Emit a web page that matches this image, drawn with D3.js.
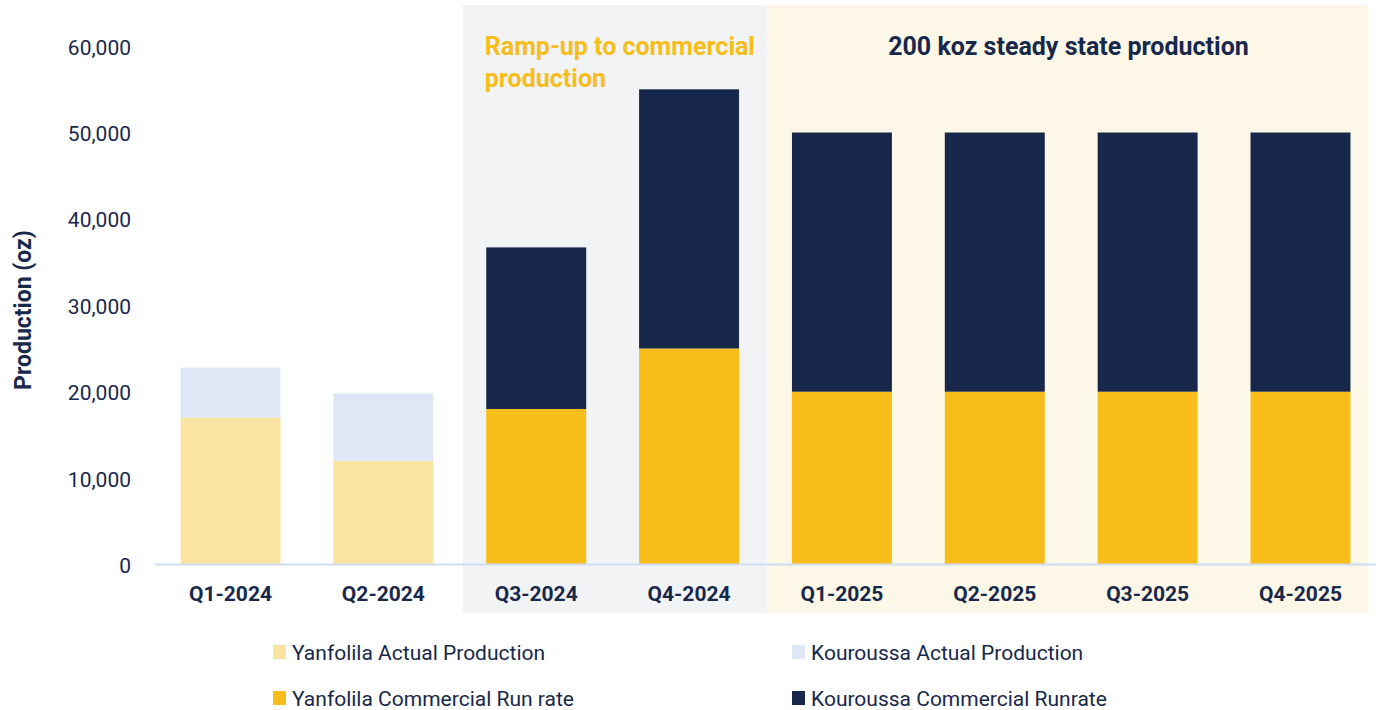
<!DOCTYPE html>
<html>
<head>
<meta charset="utf-8">
<script src="https://cdn.jsdelivr.net/npm/d3@7"></script>
<style>
  html, body { margin: 0; padding: 0; background: #ffffff; }
  svg { display: block; font-family: Roboto, "Noto Sans", sans-serif; }
</style>
</head>
<body>
<svg id="chart" width="1376" height="710"></svg>
<script>
// Quarterly production, ounces
const quarters = ["Q1-2024", "Q2-2024", "Q3-2024", "Q4-2024", "Q1-2025", "Q2-2025", "Q3-2025", "Q4-2025"];
const yanfolilaActual     = [17000, 12000, 0, 0, 0, 0, 0, 0];
const kouroussaActual     = [5800, 7800, 0, 0, 0, 0, 0, 0];
const yanfolilaCommercial = [0, 0, 18000, 25000, 20000, 20000, 20000, 20000];
const kouroussaCommercial = [0, 0, 18700, 30000, 30000, 30000, 30000, 30000];
const yTicks = [0, 10000, 20000, 30000, 40000, 50000, 60000];

const seriesNames = [
  "Yanfolila Actual Production",
  "Kouroussa Actual Production",
  "Yanfolila Commercial Run rate",
  "Kouroussa Commercial Runrate"
];
const seriesColors = ["#fae4a1", "#dfe6f5", "#f7bd1a", "#17284b"];
const seriesValues = [yanfolilaActual, kouroussaActual, yanfolilaCommercial, kouroussaCommercial];

const phases = [
  { label: ["Ramp-up to commercial", "production"], from: "Q3-2024", to: "Q4-2024", fill: "#f2f3f5", color: "#f7bd1a", align: "start" },
  { label: ["200 koz steady state production"], from: "Q1-2025", to: "Q4-2025", fill: "#fdf7e8", color: "#17284b", align: "middle" }
];

const svg = d3.select("#chart");
const navy = "#17284b";

const x = d3.scaleBand()
  .domain(quarters)
  .range([155, 1376])
  .paddingInner(0.346)
  .paddingOuter(0.167);

const y = d3.scaleLinear()
  .domain([0, 60000])
  .range([564.5, 46.1]);

// Phase backgrounds
const half = x.step() * x.paddingInner() / 2;
const phaseG = svg.append("g");
phases.forEach((p, i) => {
  const x0 = x(p.from) - half + 3;
  const x1 = i === phases.length - 1 ? x(p.to) + x.bandwidth() + 18 : x(p.to) + x.bandwidth() + half + 3;
  phaseG.append("rect")
    .attr("x", x0).attr("y", 5)
    .attr("width", x1 - x0 - (i === 0 ? 1 : 0))
    .attr("height", 608)
    .attr("fill", p.fill);
  const tx = p.align === "start" ? x0 + 22 : (x0 + x1) / 2;
  const t = phaseG.append("text")
    .attr("x", tx).attr("y", 55)
    .attr("text-anchor", p.align)
    .attr("fill", p.color)
    .attr("font-size", 25)
    .attr("font-weight", 700);
  p.label.forEach((line, k) => {
    t.append("tspan").attr("x", tx).attr("dy", k === 0 ? 0 : 32).text(line);
  });
});

// Stacked bars
const rows = quarters.map((q, i) => {
  const r = { quarter: q };
  seriesNames.forEach((s, j) => r[s] = seriesValues[j][i]);
  return r;
});
const stacked = d3.stack().keys(seriesNames)(rows);

svg.append("g")
  .selectAll("g")
  .data(stacked)
  .join("g")
  .attr("fill", (d, i) => seriesColors[i])
  .selectAll("rect")
  .data(d => d.filter(v => v[1] - v[0] > 0))
  .join("rect")
  .attr("x", d => x(d.data.quarter))
  .attr("width", x.bandwidth())
  .attr("y", d => y(d[1]))
  .attr("height", d => y(d[0]) - y(d[1]));

// Y axis
const yAxis = svg.append("g")
  .attr("transform", "translate(131,0)")
  .call(d3.axisLeft(y).tickValues(yTicks).tickSize(0).tickPadding(0).tickFormat(d3.format(",")));
yAxis.select(".domain").remove();
yAxis.selectAll("text")
  .attr("fill", navy)
  .attr("font-size", 21)
  .attr("dy", "0.38em")
  .attr("font-family", "Roboto, sans-serif");

// X axis
const xAxis = svg.append("g")
  .attr("transform", `translate(0,${y(0)})`)
  .call(d3.axisBottom(x).tickSize(0).tickPadding(22));
xAxis.select(".domain")
  .attr("d", `M155,0H1376`)
  .attr("stroke", "#cfdcf3")
  .attr("stroke-width", 2);
xAxis.selectAll("text")
  .attr("fill", navy)
  .attr("font-size", 21)
  .attr("font-weight", 700)
  .attr("font-family", "Roboto, sans-serif");

// Y axis title
svg.append("text")
  .attr("transform", "translate(31,310) rotate(-90)")
  .attr("text-anchor", "middle")
  .attr("fill", navy)
  .attr("font-size", 23)
  .attr("font-weight", 700)
  .text("Production (oz)");

// Legend
const legendPos = [[273, 652], [792, 652], [273, 698], [792, 698]];
const legend = svg.append("g");
seriesNames.forEach((s, i) => {
  const [lx, ly] = legendPos[i];
  legend.append("rect")
    .attr("x", lx).attr("y", ly - 7)
    .attr("width", 13).attr("height", 14)
    .attr("fill", seriesColors[i]);
  legend.append("text")
    .attr("x", lx + 19).attr("y", ly)
    .attr("dy", "0.36em")
    .attr("fill", navy)
    .attr("font-size", 21)
    .text(s);
});
</script>
</body>
</html>
